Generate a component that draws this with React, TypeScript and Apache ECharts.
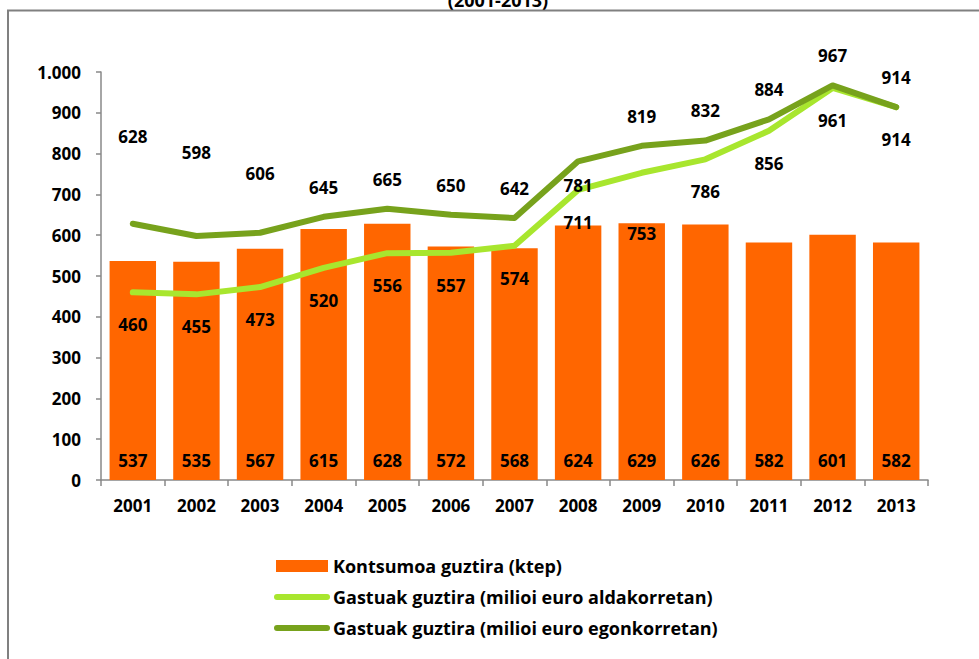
import React, { useEffect, useRef } from "react";
import * as echarts from "echarts";

const categories = ["2001","2002","2003","2004","2005","2006","2007","2008","2009","2010","2011","2012","2013"];
const consumption = [537, 535, 567, 615, 628, 572, 568, 624, 629, 626, 582, 601, 582];
const spendingCurrent = [460, 455, 473, 520, 556, 557, 574, 711, 753, 786, 856, 961, 914];
const spendingConstant = [628, 598, 606, 645, 665, 650, 642, 781, 819, 832, 884, 967, 914];
const yTicks = { min: 0, max: 1000, interval: 100 };

const seriesNames = [
  "Kontsumoa guztira (ktep)",
  "Gastuak guztira (milioi euro aldakorretan)",
  "Gastuak guztira (milioi euro egonkorretan)",
];

// label layout nudges (styling, not data)
const lightLabelNudge = [0, 0, 0, 0, 0, 0, 0, 0, 28, 0, 0, 0, 0];
const darkLabelNudge = [-58, -54, -30, 0, 0, 0, 0, 0, 0, 0, 0, 0, 0];
const darkLabelBelow = [false, false, false, false, false, false, false, true, false, false, false, false, false];

const FONT = "'Open Sans', 'Noto Sans', sans-serif";
const LIGHT = "#A8E62E";
const DARK = "#77A21C";
const ORANGE = "#FF6600";

export default function App() {
  const ref = useRef<HTMLDivElement>(null);
  useEffect(() => {
    document.body.style.margin = "0";
    const chart = echarts.init(ref.current!, undefined, { renderer: "svg" });
    const labelBase = { fontFamily: FONT, fontWeight: "bold" as const, fontSize: 17, color: "#000" };
    const lineIcon = "path://M3,0 L53,0 A3,3 0 0 1 53,6 L3,6 A3,3 0 0 1 3,0 Z";
    chart.setOption({
      animation: false,
      backgroundColor: "#fff",
      textStyle: { fontFamily: FONT },
      graphic: [
        {
          type: "rect",
          shape: { x: 8, y: 10.5, width: 1200, height: 900 },
          style: { fill: "none", stroke: "#808080", lineWidth: 2 },
          silent: true,
        },
        {
          type: "text",
          x: 498,
          y: 9,
          style: {
            text: "(2001-2013)",
            fontFamily: FONT,
            fontWeight: "bold",
            fontSize: 18,
            fill: "#000",
            textAlign: "center",
            textVerticalAlign: "bottom",
          },
        },
      ],
      grid: { left: 101, top: 72, width: 827, height: 408, containLabel: false },
      legend: {
        orient: "vertical",
        left: 274,
        top: 555,
        padding: 0,
        itemWidth: 56,
        itemHeight: 12,
        itemGap: 9,
        symbolKeepAspect: true,
        textStyle: { fontFamily: FONT, fontWeight: "bold", fontSize: 18, color: "#000", lineHeight: 22, padding: [0, 0, 0, -2] },
        data: [
          { name: seriesNames[0], icon: "path://M2,0 L54,0 L54,12 L2,12 Z" },
          { name: seriesNames[1], icon: lineIcon },
          { name: seriesNames[2], icon: lineIcon },
        ],
      },
      xAxis: {
        type: "category",
        data: categories,
        boundaryGap: true,
        axisLine: { lineStyle: { color: "#888", width: 1.5 } },
        axisTick: { show: true, length: 6, lineStyle: { color: "#888", width: 1.5 } },
        axisLabel: { margin: 17, fontFamily: FONT, fontWeight: "bold", fontSize: 17, color: "#000" },
      },
      yAxis: {
        type: "value",
        min: yTicks.min,
        max: yTicks.max,
        interval: yTicks.interval,
        axisLine: { show: true, lineStyle: { color: "#888", width: 1.5 } },
        axisTick: { show: true, length: 5, lineStyle: { color: "#888", width: 1.5 } },
        splitLine: { show: false },
        axisLabel: {
          margin: 20,
          fontFamily: FONT,
          fontWeight: "bold",
          fontSize: 17,
          color: "#000",
          formatter: (v: number) => (v >= 1000 ? (v / 1000).toFixed(3) : String(v)),
        },
      },
      series: [
        {
          name: seriesNames[0],
          type: "bar",
          data: consumption,
          barCategoryGap: "27%",
          itemStyle: { color: ORANGE },
          label: { show: true, position: "insideBottom", distance: 11, ...labelBase },
          z: 1,
        },
        {
          name: seriesNames[1],
          type: "line",
          data: spendingCurrent.map((v, i) => ({
            value: v,
            label: { offset: [0, lightLabelNudge[i]] },
          })),
          symbol: "circle",
          symbolSize: 0.1,
          lineStyle: { color: LIGHT, width: 6, cap: "round", join: "round" },
          itemStyle: { color: LIGHT },
          label: { show: true, position: "bottom", distance: 24, ...labelBase },
          z: 3,
        },
        {
          name: seriesNames[2],
          type: "line",
          data: spendingConstant.map((v, i) => ({
            value: v,
            label: darkLabelBelow[i]
              ? { position: "bottom", distance: 16 }
              : { offset: [0, darkLabelNudge[i]] },
          })),
          symbol: "circle",
          symbolSize: 0.1,
          lineStyle: { color: DARK, width: 6, cap: "round", join: "round" },
          itemStyle: { color: DARK },
          label: { show: true, position: "top", distance: 21, ...labelBase },
          z: 4,
        },
      ],
    });
    return () => chart.dispose();
  }, []);
  return <div ref={ref} style={{ width: 979, height: 659 }} />;
}
